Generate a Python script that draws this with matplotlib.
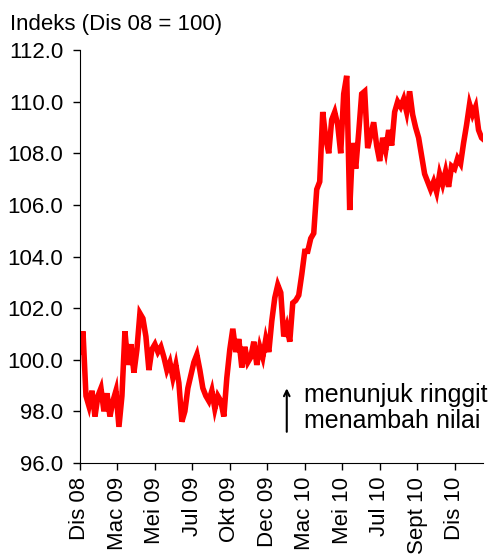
import matplotlib.pyplot as plt
import numpy as np

plt.rcParams["font.family"] = ["Liberation Sans", "DejaVu Sans"]

# index values, one sample every 4 business days from Dis 08
values = [
    100.3, 101.1, 98.6, 98.2, 98.8, 97.8, 98.6, 98.9, 98.0, 98.7,
    97.8, 98.4, 98.8, 97.4, 98.6, 101.1, 99.8, 100.6, 99.5, 100.4,
    101.8, 101.6, 100.9, 99.6, 100.4, 100.6, 100.3, 100.5, 100.1, 99.6,
    99.9, 99.3, 99.8, 99.1, 97.6, 98.0, 98.9, 99.4, 99.9, 100.2,
    99.6, 98.9, 98.6, 98.4, 98.8, 98.1, 98.6, 98.4, 97.8, 99.3,
    100.4, 101.2, 100.3, 100.8, 99.7, 100.5, 99.9, 100.1, 100.7, 99.8,
    100.5, 100.1, 100.8, 100.3, 101.5, 102.4, 102.9, 102.6, 100.9, 101.3,
    100.7, 102.2, 102.3, 102.5, 103.3, 104.2, 104.2, 104.7, 104.9, 106.6,
    106.9, 109.6, 108.6, 108.0, 109.3, 109.6, 109.1, 108.0, 110.3, 111.0,
    105.8, 108.4, 107.4, 108.8, 110.3, 110.4, 108.2, 108.7, 109.2, 108.3,
    107.7, 108.6, 108.1, 108.9, 108.3, 109.6, 110.0, 109.8, 110.1, 109.6,
    110.4, 109.5, 109.0, 108.6, 107.9, 107.2, 106.9, 106.6, 106.9, 106.5,
    107.2, 106.8, 107.3, 106.7, 107.5, 107.4, 107.8, 107.6, 108.4, 109.1,
    109.9, 109.5, 109.8, 108.9, 108.6, 108.5,
]
step_days = 4
tick_labels = ["Dis 08", "Mac 09", "Mei 09", "Jul 09", "Okt 09", "Dec 09",
               "Mac 10", "Mei 10", "Jul 10", "Sept 10", "Dis 10"]
tick_days = [0, 50, 100, 150, 200, 250, 300, 350, 400, 450, 500]


def main():
    days = np.arange(len(values)) * step_days

    fig = plt.figure(figsize=(4.98, 5.54), dpi=100)
    ax = fig.add_axes([0.1606, 0.1643, 0.8094, 0.7454])

    ax.plot(days, values, color="#FF0000", linewidth=4, solid_joinstyle="miter")

    yticks = np.arange(96, 112.1, 2)
    ax.set_ylim(96, 112)
    ax.set_yticks(yticks)
    ax.set_yticklabels([f"{v:.1f}" for v in yticks], fontsize=16)
    ax.set_xlim(0, 538)
    ax.set_xticks(tick_days)
    ax.set_xticklabels(tick_labels, rotation=90, fontsize=16)
    ax.tick_params(axis="both", direction="out", length=5, width=1)
    ax.tick_params(axis="y", pad=7)
    ax.tick_params(axis="x", pad=5)

    ax.spines["top"].set_visible(False)
    ax.spines["right"].set_visible(False)

    fig.text(10 / 498, 1 - 30 / 554, "Indeks (Dis 08 = 100)", fontsize=16, va="baseline")

    ax.annotate("", xy=(276, 99.0), xytext=(276, 97.1),
                arrowprops=dict(arrowstyle="->", color="black", lw=1.5))
    ax.text(299, 98.13, "menunjuk ringgit\nmenambah nilai", fontsize=18,
            va="center", ha="left", linespacing=1.15)

    fig.savefig("out.png", dpi=100)
    plt.close(fig)


if __name__ == "__main__":
    main()
